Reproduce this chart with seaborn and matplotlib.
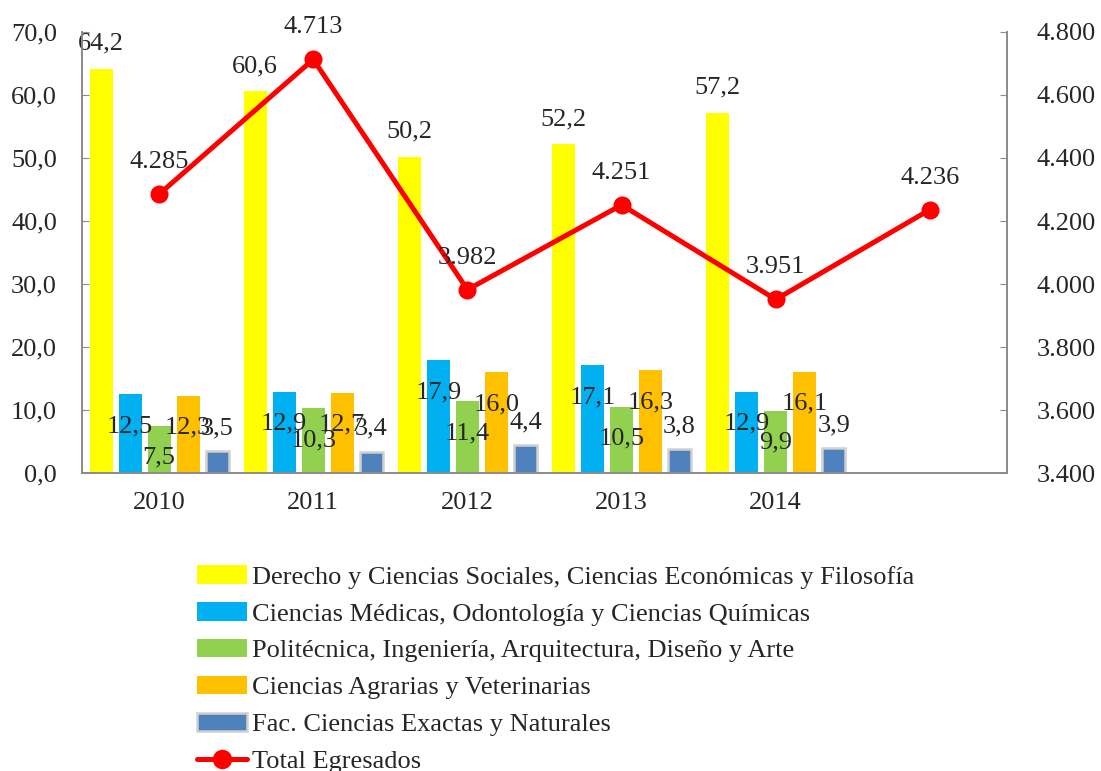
import numpy as np
import pandas as pd
import seaborn as sns
import matplotlib.pyplot as plt
from matplotlib.patches import Patch
from matplotlib.lines import Line2D

# datos por facultad (porcentaje) y total de egresados
years = [2010, 2011, 2012, 2013, 2014]
facultades = ["Derecho y Ciencias Sociales, Ciencias Económicas y Filosofía",
              "Ciencias Médicas, Odontología y Ciencias Químicas",
              "Politécnica, Ingeniería, Arquitectura, Diseño y Arte",
              "Ciencias Agrarias y Veterinarias",
              "Fac. Ciencias Exactas y Naturales"]
derecho = [64.2, 60.6, 50.2, 52.2, 57.2]
medicas = [12.5, 12.9, 17.9, 17.1, 12.9]
politecnica = [7.5, 10.3, 11.4, 10.5, 9.9]
agrarias = [12.3, 12.7, 16.0, 16.3, 16.1]
exactas = [3.5, 3.4, 4.4, 3.8, 3.9]
total_x = [2010, 2011, 2012, 2013, 2014, 2015]
total_egresados = [4285, 4713, 3982, 4251, 3951, 4236]
colores = ["#FFFF00", "#00B0F0", "#92D050", "#FFC000", "#4F81BD"]
series = [derecho, medicas, politecnica, agrarias, exactas]

rows = []
for fac, vals in zip(facultades, series):
    for y, v in zip(years, vals):
        rows.append({'anio': y, 'facultad': fac, 'valor': v})
df = pd.DataFrame(rows)

sns.set_style('white')
plt.rcParams['font.family'] = ['Liberation Serif', 'DejaVu Serif']
gris = '#8C8C8C'
fs = 19

fig = plt.figure(figsize=(11.01, 7.71), dpi=100)
ax = fig.add_axes([0.0745, 0.3865, 0.8401, 0.572])

sns.barplot(data=df, x='anio', y='valor', hue='facultad', hue_order=facultades,
            palette=colores, native_scale=True, width=0.94, gap=0.21,
            errorbar=None, saturation=1, linewidth=0,
            legend=False, ax=ax)
# borde claro solo en la ultima serie
for bar in ax.containers[-1]:
    bar.set_edgecolor('#D0D0D0')
    bar.set_linewidth(1.8)

ax.set_ylim(0, 70)
ax.set_yticks(np.arange(0, 71, 10))
ax.set_yticklabels([f"{v:.1f}".replace('.', ',') for v in np.arange(0, 71, 10)])
ax.set_xticks(years)
ax.set_xticklabels([str(y) for y in years])
ax.set_xticks(np.arange(2010.5, 2015, 1), minor=True)
ax.tick_params(axis='x', which='major', length=0, pad=14, labelsize=fs)
ax.tick_params(axis='x', which='minor', direction='in', length=5, color=gris)
ax.tick_params(axis='y', direction='in', length=5, color=gris, pad=18, labelsize=fs)
ax.set_xlabel('')
ax.set_ylabel('')

# etiquetas de las barras
offsets = [18, -23, -23, -23, 16.5]
for cont, vals, off in zip(ax.containers, series, offsets):
    for bar, v in zip(cont, vals):
        ax.annotate(f"{v:.1f}".replace('.', ','),
                    (bar.get_x() + bar.get_width() / 2, bar.get_height()),
                    xytext=(0, off), textcoords='offset points',
                    ha='center', va='center', fontsize=fs, annotation_clip=False)

ax2 = ax.twinx()
sns.lineplot(x=total_x, y=total_egresados, ax=ax2, color='#FF0000',
             linewidth=3.6, marker='o', markersize=13, markeredgewidth=0)
ax2.set_ylim(3400, 4800)
rt = np.arange(3400, 4801, 200)
ax2.set_yticks(rt)
ax2.set_yticklabels([f"{v:,}".replace(',', '.') for v in rt])
ax2.tick_params(axis='y', direction='in', length=5, color=gris, pad=21.6, labelsize=fs)
ax2.set_ylabel('')
for x, v in zip(total_x, total_egresados):
    ax2.annotate(f"{v:,}".replace(',', '.'), (x, v), xytext=(0, 23),
                 textcoords='offset points', ha='center', va='center',
                 fontsize=fs, annotation_clip=False)

ax.set_xlim(2009.5, 2015.5)
for a in (ax, ax2):
    a.spines['top'].set_visible(False)
    for s in ('left', 'right', 'bottom'):
        a.spines[s].set_color(gris)
        a.spines[s].set_linewidth(1.3)

handles = [Patch(facecolor=c, edgecolor='none') for c in colores[:-1]]
handles.append(Patch(facecolor=colores[-1], edgecolor='#D0D0D0', linewidth=1.8))
handles.append(Line2D([0], [0], color='#FF0000', linewidth=3.6, marker='o', markersize=13))
labels = facultades + ['Total Egresados']
fig.legend(handles, labels, loc='upper left', bbox_to_anchor=(0.179, 0.267),
           frameon=False, fontsize=fs, handlelength=1.9, handleheight=0.7,
           handletextpad=0.2, labelspacing=0.51, borderpad=0, borderaxespad=0)

fig.savefig('out.png', dpi=100)
